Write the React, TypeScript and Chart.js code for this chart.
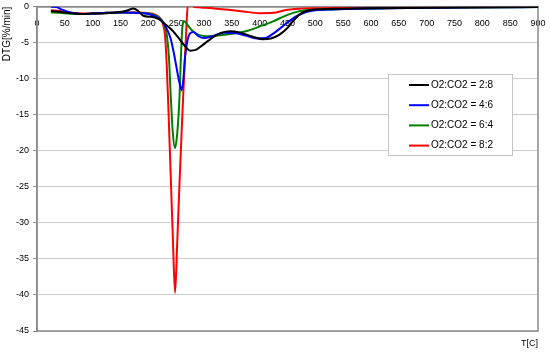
import React, { useEffect, useRef } from 'react';
import { Chart, registerables } from 'chart.js';

Chart.register(...registerables);

const seriesLabels = ['O2:CO2 = 2:8', 'O2:CO2 = 4:6', 'O2:CO2 = 6:4', 'O2:CO2 = 8:2'];
const seriesColors = ['#000000', '#0000ff', '#008000', '#ff0000'];

const temp28 = [25, 40, 60, 80, 100, 125, 150, 163, 173, 182, 192, 205, 218, 230, 242, 255, 265, 275, 285, 298, 315, 332, 348, 365, 385, 405, 420, 435, 448, 460, 470, 480, 492, 510, 550, 600, 700, 800, 900];
const dtg28 = [-0.6, -0.7, -0.9, -1.0, -0.95, -0.9, -0.75, -0.5, -0.25, -0.6, -1.3, -1.4, -1.7, -2.4, -3.2, -4.4, -5.4, -6.1, -6.0, -5.3, -4.3, -3.6, -3.4, -3.6, -4.1, -4.5, -4.4, -3.9, -3.1, -2.0, -1.2, -0.7, -0.45, -0.35, -0.28, -0.22, -0.14, -0.08, -0.04];

const temp46 = [25, 35, 45, 60, 80, 100, 125, 150, 175, 200, 212, 222, 232, 240, 246, 251, 256, 260, 263, 266, 270, 275, 281, 290, 300, 315, 335, 355, 375, 395, 410, 425, 440, 455, 470, 485, 500, 530, 600, 700, 800, 900];
const dtg46 = [0, -0.05, -0.4, -0.8, -1.0, -0.95, -0.85, -0.8, -0.85, -1.0, -1.3, -1.8, -2.9, -4.4, -6.5, -8.6, -10.6, -11.6, -10.0, -7.0, -4.8, -3.7, -3.5, -4.1, -4.35, -4.1, -3.6, -3.65, -4.0, -4.4, -4.35, -3.7, -2.8, -1.9, -1.15, -0.7, -0.5, -0.38, -0.25, -0.15, -0.09, -0.05];

const temp64 = [25, 40, 60, 80, 100, 125, 150, 175, 200, 212, 222, 229, 233, 237, 240, 244, 248, 252, 256, 258.5, 261, 264, 270, 280, 292, 305, 325, 350, 380, 405, 425, 445, 465, 485, 500, 550, 600, 700, 800, 900];
const dtg64 = [-0.8, -0.85, -0.95, -1.0, -0.95, -0.85, -0.8, -0.85, -0.95, -1.2, -1.7, -2.5, -3.8, -7.0, -12.0, -17.5, -19.6, -17.5, -12.5, -7.0, -3.0, -2.0, -2.5, -3.4, -3.95, -4.1, -4.0, -3.75, -3.3, -2.6, -2.0, -1.3, -0.75, -0.5, -0.42, -0.32, -0.25, -0.16, -0.1, -0.05];

const temp82 = [25, 40, 60, 80, 100, 125, 150, 175, 200, 212, 220, 226, 230, 233, 236, 240, 244, 248, 252, 256, 260, 264, 268, 271, 275, 282, 295, 315, 340, 370, 400, 425, 445, 470, 500, 550, 650, 750, 900];
const dtg82 = [-0.5, -0.6, -0.85, -0.95, -0.95, -0.85, -0.8, -0.8, -0.9, -1.1, -1.5, -2.3, -4.0, -8.0, -14.0, -23.0, -32.0, -39.7, -32.5, -24.5, -17.0, -10.0, -3.5, 0.4, 0.3, 0.0, -0.1, -0.2, -0.4, -0.65, -0.9, -0.85, -0.5, -0.3, -0.22, -0.18, -0.12, -0.08, -0.04];

const seriesTemps = [temp28, temp46, temp64, temp82];
const seriesDtg = [dtg28, dtg46, dtg64, dtg82];

const xMin = 0;
const xMax = 900;
const xStep = 50;
const yMin = -45;
const yMax = 0;
const yStep = 5;

const xTitle = 'T[C]';
const yTitle = 'DTG[%/min]';

const FONT = "'Liberation Sans', Arial, sans-serif";

const plotBorder = {
  id: 'plotBorder',
  beforeDatasetsDraw(chart: any) {
    const { ctx, chartArea } = chart;
    ctx.save();
    ctx.strokeStyle = '#8a8a8a';
    ctx.lineWidth = 1.5;
    ctx.strokeRect(chartArea.left, chartArea.top, chartArea.right - chartArea.left, chartArea.bottom - chartArea.top);
    ctx.restore();
  },
};

const boxLegend = {
  id: 'boxLegend',
  afterDraw(chart: any) {
    const { ctx } = chart;
    const bx = 388, by = 74, bw = 124, bh = 81;
    ctx.save();
    ctx.fillStyle = '#ffffff';
    ctx.fillRect(bx, by, bw, bh);
    ctx.strokeStyle = '#c4c4c4';
    ctx.lineWidth = 1;
    ctx.strokeRect(bx + 0.5, by + 0.5, bw, bh);
    ctx.font = `10px ${FONT}`;
    ctx.textBaseline = 'middle';
    ctx.textAlign = 'left';
    chart.data.datasets.forEach((ds: any, i: number) => {
      const yy = by + 11 + i * 20.2;
      ctx.strokeStyle = ds.borderColor;
      ctx.lineWidth = 2;
      ctx.beginPath();
      ctx.moveTo(409, yy);
      ctx.lineTo(429, yy);
      ctx.stroke();
      ctx.fillStyle = '#000000';
      ctx.fillText(ds.label, 431, yy);
    });
    ctx.restore();
  },
};

const zeroPad = (s: any) => {
  s.paddingLeft = 0;
  s.paddingRight = 0;
  s.paddingTop = 0;
  s.paddingBottom = 0;
};

export default function App() {
  const ref = useRef<HTMLCanvasElement | null>(null);

  useEffect(() => {
    document.body.style.margin = '0';
    if (!ref.current) return;
    const datasets = seriesLabels.map((label, i) => ({
      label,
      data: seriesTemps[i].map((t, j) => ({ x: t, y: seriesDtg[i][j] })),
      borderColor: seriesColors[i],
      backgroundColor: seriesColors[i],
      borderWidth: 2,
      pointRadius: 0,
      cubicInterpolationMode: 'monotone' as const,
      fill: false,
      clip: 0,
    }));
    const chart = new Chart(ref.current, {
      type: 'line',
      data: { datasets },
      plugins: [plotBorder, boxLegend],
      options: {
        animation: false,
        responsive: false,
        layout: { padding: { left: 0, top: 6.7, right: 12, bottom: 0 } },
        plugins: {
          legend: { display: false },
          tooltip: { enabled: false },
        },
        scales: {
          x: {
            type: 'linear',
            position: { y: 0 } as any,
            min: xMin,
            max: xMax,
            afterFit: (s: any) => { s.height = 0; zeroPad(s); },
            ticks: {
              stepSize: xStep,
              autoSkip: false,
              maxRotation: 0,
              padding: 11,
              color: '#000000',
              font: { size: 9, family: FONT },
            },
            grid: { drawOnChartArea: false, drawTicks: false },
            border: { color: '#8a8a8a', width: 1.5 },
          },
          x2: {
            type: 'linear',
            position: 'bottom',
            min: xMin,
            max: xMax,
            afterFit: (s: any) => { s.height = 26; zeroPad(s); },
            ticks: { display: false },
            grid: { display: false },
            border: { display: false },
            title: {
              display: true,
              text: xTitle,
              align: 'end',
              color: '#000000',
              font: { size: 9, family: FONT },
              padding: { top: 0, bottom: 8 },
            },
          },
          y: {
            type: 'linear',
            position: 'left',
            min: yMin,
            max: yMax,
            afterFit: (s: any) => { s.width = 37; zeroPad(s); },
            ticks: {
              stepSize: yStep,
              padding: 4,
              color: '#000000',
              font: { size: 9, family: FONT },
            },
            grid: { color: '#cdcdcd', tickColor: '#8a8a8a', tickLength: 4, lineWidth: 1 },
            border: { color: '#8a8a8a', width: 1.5 },
            title: {
              display: true,
              text: yTitle,
              align: 'end',
              color: '#000000',
              font: { size: 10, family: FONT },
              padding: { top: 1, bottom: 0 },
            },
          },
        },
      },
    });
    return () => chart.destroy();
  }, []);

  return (
    <div style={{ width: 550, height: 357 }}>
      <canvas ref={ref} width={550} height={357} style={{ display: 'block' }} />
    </div>
  );
}
